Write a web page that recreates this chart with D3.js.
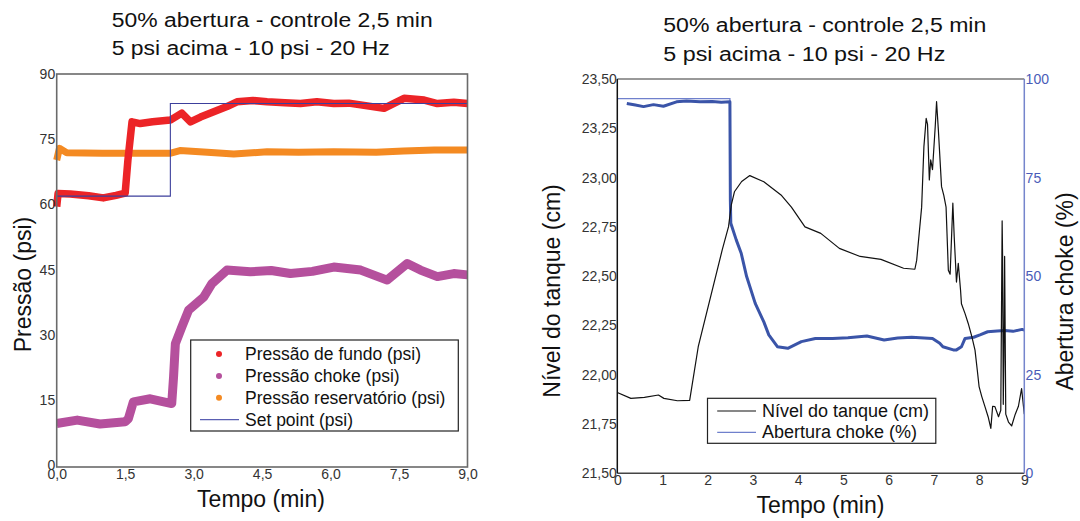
<!DOCTYPE html>
<html>
<head>
<meta charset="utf-8">
<script src="https://cdn.jsdelivr.net/npm/d3@7"></script>
<style>
  body { margin: 0; background: #fff; }
  svg { display: block; font-family: Arial, "Liberation Sans", sans-serif; }
</style>
</head>
<body>
<svg id="chart" width="1080" height="521"></svg>
<script>
// ---- data: left chart (pressures, psi vs minutes) ----
var fundoT = [0, 0.03, 0.3, 0.7, 1.02, 1.3, 1.5, 1.56, 1.65, 1.83, 2.1, 2.49, 2.74, 2.93, 3.15, 3.44, 3.73, 3.95, 4.3, 4.61, 5.0, 5.34, 5.7, 6.07, 6.4, 6.66, 7.17, 7.4, 7.61, 8.05, 8.34, 8.7, 9];
var fundoV = [59.5, 62.5, 62.4, 62.0, 61.5, 62.1, 62.6, 70.2, 79.0, 78.6, 79.0, 79.4, 81.0, 79.0, 80.1, 81.3, 82.5, 83.6, 83.9, 83.6, 83.4, 83.2, 83.6, 83.2, 83.3, 82.9, 82.1, 83.3, 84.4, 84.0, 83.2, 83.5, 83.2];

var chokeT = [0, 0.45, 0.95, 1.5, 1.57, 1.68, 2.05, 2.52, 2.56, 2.6, 2.74, 2.89, 3.22, 3.4, 3.73, 4.24, 4.7, 5.12, 5.6, 6.07, 6.66, 7.24, 7.68, 7.97, 8.34, 8.7, 9];
var chokeV = [9.6, 10.4, 9.5, 10.0, 10.7, 14.6, 15.3, 14.2, 20.3, 28.0, 31.8, 35.7, 38.7, 41.8, 44.9, 44.5, 44.8, 44.1, 44.6, 45.6, 44.9, 42.6, 46.4, 44.9, 43.4, 44.1, 43.8];

var reservT = [0, 0.06, 0.22, 1.0, 2.0, 2.5, 2.7, 3.3, 3.88, 4.61, 5.3, 6.07, 7.0, 7.6, 8.27, 9];
var reservV = [70.2, 72.9, 71.9, 71.8, 71.8, 71.8, 72.4, 72.0, 71.6, 72.1, 72.0, 72.1, 72.0, 72.3, 72.5, 72.5];

var setT = [0, 2.49, 2.49, 9];
var setV = [61.9, 61.9, 83.2, 83.2];

var xTicksL = [0, 1.5, 3, 4.5, 6, 7.5, 9];
var yTicksL = [0, 15, 30, 45, 60, 75, 90];

// ---- data: right chart (tank level cm, choke opening %) ----
var nivelT = [0, 0.3, 0.6, 0.91, 1.03, 1.33, 1.6, 1.79, 2.32, 2.46, 2.52, 2.59, 2.75, 2.93, 3.24, 3.62, 3.85, 4.15, 4.5, 4.91, 5.37, 5.83, 6.33, 6.58, 6.62, 6.73, 6.78, 6.83, 6.86, 6.9, 6.93, 6.97, 7.03, 7.06, 7.1, 7.17, 7.22, 7.27, 7.32, 7.36, 7.42, 7.45, 7.5, 7.54, 7.59, 7.61, 7.69, 7.76, 7.84, 7.91, 7.96, 8.0, 8.06, 8.13, 8.2, 8.26, 8.3, 8.35, 8.43, 8.48, 8.51, 8.52, 8.535, 8.55, 8.565, 8.59, 8.65, 8.72, 8.8, 8.87, 8.94, 9];
var nivelV = [21.91, 21.88, 21.885, 21.897, 21.88, 21.868, 21.87, 22.142, 22.633, 22.751, 22.86, 22.928, 22.98, 23.01, 22.979, 22.912, 22.85, 22.75, 22.717, 22.641, 22.6, 22.585, 22.54, 22.535, 22.58, 22.85, 23.157, 23.3, 23.27, 22.988, 23.09, 23.04, 23.258, 23.385, 23.24, 22.954, 22.91, 22.85, 22.53, 22.51, 22.87, 22.7, 22.47, 22.565, 22.43, 22.36, 22.31, 22.26, 22.193, 22.125, 22.024, 21.94, 21.889, 21.838, 21.787, 21.728, 21.84, 21.838, 21.787, 21.82, 22.78, 22.6, 21.85, 22.1, 22.6, 21.8, 21.76, 21.74, 21.8, 21.84, 21.93, 21.8];

var aberRefT = [0, 2.49, 2.49];
var aberRefV = [95, 95, 69.3];
var aberT = [0.21, 0.4, 0.58, 0.8, 1.02, 1.31, 1.53, 1.83, 2.1, 2.3, 2.49, 2.5, 2.51, 2.63, 2.74, 2.86, 3.05, 3.24, 3.35, 3.54, 3.77, 4.07, 4.38, 4.76, 5.1, 5.52, 5.9, 6.2, 6.51, 6.97, 7.13, 7.2, 7.43, 7.5, 7.61, 7.69, 7.88, 8.02, 8.19, 8.4, 8.57, 8.75, 8.95, 9];
var aberV = [93.8, 93.4, 93.0, 93.5, 93.1, 94.2, 94.4, 94.2, 94.3, 94.1, 94.2, 69.3, 63.4, 59.2, 55.8, 49.9, 43.1, 38.4, 35.1, 32.1, 31.7, 33.4, 34.2, 34.2, 34.4, 34.8, 33.8, 34.3, 34.5, 34.2, 33.0, 32.1, 31.3, 31.3, 32.1, 34.2, 34.5, 35.1, 35.9, 36.1, 36.2, 36.0, 36.5, 36.3];

var xTicksR = [0, 1, 2, 3, 4, 5, 6, 7, 8, 9];
var yTicksRL = [21.5, 21.75, 22, 22.25, 22.5, 22.75, 23, 23.25, 23.5];
var yTicksRR = [0, 25, 50, 75, 100];

var svg = d3.select('#chart');
var comma = function(digits) {
  return function(d) { return d.toFixed(digits).replace('.', ','); };
};

// ================= LEFT CHART =================
var xL = d3.scaleLinear().domain([0, 9]).range([56.7, 467.5]);
var yL = d3.scaleLinear().domain([0, 90]).range([465.3, 74]);

var lineL = d3.line().x(d => xL(d[0])).y(d => yL(d[1]));

// titles
[['50% abertura - controle 2,5 min', 27, 321], ['5 psi acima - 10 psi - 20 Hz', 54.5, 278]].forEach(function(t) {
  svg.append('text').attr('x', 111.7).attr('y', t[1])
     .attr('textLength', t[2]).attr('lengthAdjust', 'spacingAndGlyphs')
     .style('font-size', '20px').attr('fill', '#111').text(t[0]);
});

// series (back to front)
svg.append('path').datum(d3.zip(chokeT, chokeV))
   .attr('d', lineL).attr('fill', 'none').attr('stroke', '#b5509d')
   .attr('stroke-width', 9).attr('stroke-linejoin', 'round');
svg.append('path').datum(d3.zip(reservT, reservV))
   .attr('d', lineL).attr('fill', 'none').attr('stroke', '#f48a22')
   .attr('stroke-width', 7).attr('stroke-linejoin', 'round');
svg.append('path').datum(d3.zip(fundoT, fundoV))
   .attr('d', lineL).attr('fill', 'none').attr('stroke', '#ec2427')
   .attr('stroke-width', 7.5).attr('stroke-linejoin', 'round');
svg.append('path').datum(d3.zip(setT, setV))
   .attr('d', lineL).attr('fill', 'none').attr('stroke', '#3c3f9c')
   .attr('stroke-width', 1.1);

// frame
svg.append('rect').attr('x', 56.7).attr('y', 74).attr('width', 410.8).attr('height', 393)
   .attr('fill', 'none').attr('stroke', '#6a6a6a').attr('stroke-width', 1.6);

// axes
var gxL = svg.append('g').attr('transform', 'translate(0,467)')
   .call(d3.axisBottom(xL).tickValues(xTicksL).tickFormat(comma(1)).tickSize(0).tickPadding(2));
var gyL = svg.append('g').attr('transform', 'translate(56.7,0)')
   .call(d3.axisLeft(yL).tickValues(yTicksL).tickFormat(d3.format('d')).tickSize(0).tickPadding(1.5));
[gxL, gyL].forEach(function(g) {
  g.select('.domain').remove();
  g.selectAll('text').style('font-size', '14px').style('font-family', 'Arial, "Liberation Sans", sans-serif').attr('fill', '#333');
});

svg.append('text').attr('x', 261).attr('y', 507).attr('text-anchor', 'middle')
   .style('font-size', '23px').attr('fill', '#111').text('Tempo (min)');
svg.append('text').attr('transform', 'translate(31,284.5) rotate(-90)').attr('text-anchor', 'middle')
   .style('font-size', '23px').attr('fill', '#111').text('Pressão (psi)');

// legend
var legL = [
  { name: 'Pressão de fundo (psi)', color: '#ec2427', kind: 'dot' },
  { name: 'Pressão choke (psi)', color: '#b5509d', kind: 'dot' },
  { name: 'Pressão reservatório (psi)', color: '#f48a22', kind: 'dot' },
  { name: 'Set point (psi)', color: '#5a5fb2', kind: 'line' }
];
svg.append('rect').attr('x', 190.7).attr('y', 340).attr('width', 267.6).attr('height', 91)
   .attr('fill', '#fff').attr('stroke', '#222').attr('stroke-width', 1.2);
legL.forEach(function(d, i) {
  var cy = 354 + i * 21.9;
  if (d.kind === 'dot') {
    svg.append('circle').attr('cx', 219).attr('cy', cy).attr('r', 3).attr('fill', d.color);
  } else {
    svg.append('line').attr('x1', 200).attr('x2', 239).attr('y1', cy).attr('y2', cy)
       .attr('stroke', d.color).attr('stroke-width', 1.2);
  }
  svg.append('text').attr('x', 245).attr('y', cy + 6.2).style('font-size', '17.5px')
     .attr('fill', '#111').text(d.name);
});

// ================= RIGHT CHART =================
var xR = d3.scaleLinear().domain([0, 9]).range([617.3, 1024.3]);
var yRL = d3.scaleLinear().domain([21.5, 23.5]).range([473.3, 79]);
var yRR = d3.scaleLinear().domain([0, 100]).range([473.3, 79]);

[['50% abertura - controle 2,5 min', 32.3, 323], ['5 psi acima - 10 psi - 20 Hz', 60.7, 282]].forEach(function(t) {
  svg.append('text').attr('x', 663.3).attr('y', t[1])
     .attr('textLength', t[2]).attr('lengthAdjust', 'spacingAndGlyphs')
     .style('font-size', '20px').attr('fill', '#111').text(t[0]);
});

var lineRR = d3.line().x(d => xR(d[0])).y(d => yRR(d[1]));
var lineRL = d3.line().x(d => xR(d[0])).y(d => yRL(d[1]));

svg.append('path').datum(d3.zip(aberRefT, aberRefV))
   .attr('d', lineRR).attr('fill', 'none').attr('stroke', '#6f80cc').attr('stroke-width', 1.3);
svg.append('path').datum(d3.zip(aberT, aberV))
   .attr('d', lineRR).attr('fill', 'none').attr('stroke', '#3a54a8')
   .attr('stroke-width', 3).attr('stroke-linejoin', 'round');
svg.append('path').datum(d3.zip(nivelT, nivelV))
   .attr('d', lineRL).attr('fill', 'none').attr('stroke', '#111')
   .attr('stroke-width', 1.2).attr('stroke-linejoin', 'round');

// frame: top gray, left/bottom black, right blue
svg.append('line').attr('x1', 617.3).attr('x2', 1024.3).attr('y1', 79).attr('y2', 79)
   .attr('stroke', '#777').attr('stroke-width', 1.5);
svg.append('line').attr('x1', 617.3).attr('x2', 1024.3).attr('y1', 473.3).attr('y2', 473.3)
   .attr('stroke', '#444').attr('stroke-width', 1.5);
svg.append('line').attr('x1', 617.3).attr('x2', 617.3).attr('y1', 79).attr('y2', 473.3)
   .attr('stroke', '#111').attr('stroke-width', 1.5);
svg.append('line').attr('x1', 1024.3).attr('x2', 1024.3).attr('y1', 79).attr('y2', 473.3)
   .attr('stroke', '#7585cc').attr('stroke-width', 1.5);

var gxR = svg.append('g').attr('transform', 'translate(0,473.3)')
   .call(d3.axisBottom(xR).tickValues(xTicksR).tickFormat(d3.format('d')).tickSize(0).tickPadding(1.5));
var gyRL = svg.append('g').attr('transform', 'translate(617.3,0)')
   .call(d3.axisLeft(yRL).tickValues(yTicksRL).tickFormat(comma(2)).tickSize(0).tickPadding(0.5));
var gyRR = svg.append('g').attr('transform', 'translate(1024.3,0)')
   .call(d3.axisRight(yRR).tickValues(yTicksRR).tickFormat(d3.format('d')).tickSize(0).tickPadding(1.3));
[gxR, gyRL, gyRR].forEach(function(g) {
  g.select('.domain').remove();
  g.selectAll('text').style('font-size', '14px').style('font-family', 'Arial, "Liberation Sans", sans-serif').attr('fill', '#333');
});
gyRR.selectAll('text').attr('fill', '#4a5cb8');

svg.append('text').attr('x', 820.5).attr('y', 513).attr('text-anchor', 'middle')
   .style('font-size', '23px').attr('fill', '#111').text('Tempo (min)');
svg.append('text').attr('transform', 'translate(560,291) rotate(-90)').attr('text-anchor', 'middle')
   .style('font-size', '23px').attr('fill', '#111').text('Nível do tanque (cm)');
svg.append('text').attr('transform', 'translate(1073,291.5) rotate(-90)').attr('text-anchor', 'middle')
   .style('font-size', '23px').attr('fill', '#111').text('Abertura choke (%)');

// legend
var legR = [
  { name: 'Nível do tanque (cm)', color: '#111' },
  { name: 'Abertura choke (%)', color: '#6f80cc' }
];
svg.append('rect').attr('x', 707.5).attr('y', 398.3).attr('width', 228.3).attr('height', 45)
   .attr('fill', '#fff').attr('stroke', '#222').attr('stroke-width', 1.2);
legR.forEach(function(d, i) {
  var cy = 411 + i * 21.3;
  svg.append('line').attr('x1', 717.2).attr('x2', 756).attr('y1', cy).attr('y2', cy)
     .attr('stroke', d.color).attr('stroke-width', 1.2);
  svg.append('text').attr('x', 761.9).attr('y', cy + 6).style('font-size', '18px')
     .attr('fill', '#111').text(d.name);
});
</script>
</body>
</html>
